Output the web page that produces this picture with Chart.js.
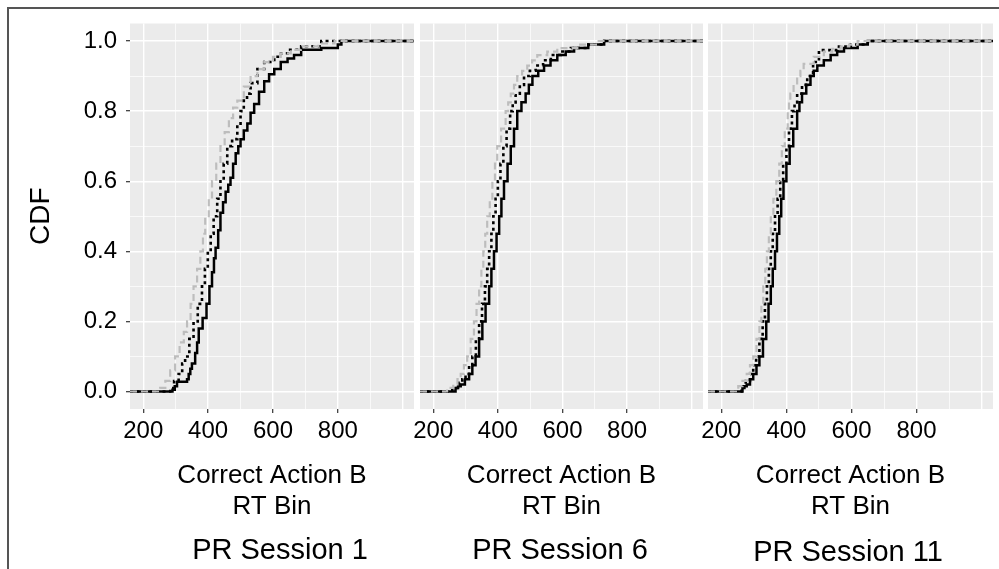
<!DOCTYPE html>
<html>
<head>
<meta charset="utf-8">
<script src="https://cdn.jsdelivr.net/npm/chart.js@4.4.1/dist/chart.umd.min.js"></script>
<style>
  body { margin: 0; background: #fff; width: 999px; height: 569px; overflow: hidden; position: relative;
         font-family: "Liberation Sans", Arial, sans-serif; }
  #frame { position: absolute; left: 7px; top: 7px; width: 1100px; height: 700px; border: 2px solid #555; box-sizing: border-box; }
  canvas { position: absolute; left: 0; top: 0; }
  .session { position: absolute; top: 535px; font-size: 29px; line-height: 1; transform: translateX(-50%); white-space: nowrap; color: #000; }
</style>
</head>
<body>
<div id="frame"></div>
<canvas id="panel1" width="999" height="569"></canvas>
<canvas id="panel2" width="999" height="569"></canvas>
<canvas id="panel3" width="999" height="569"></canvas>
<div class="session" style="left:280px">PR Session 1</div>
<div class="session" style="left:560px">PR Session 6</div>
<div class="session" style="left:848px;top:537px">PR Session 11</div>

<script>
// Axis settings
const X_MIN = 159;
const X_MAX = 1035;
const xGridValues = [200, 300, 400, 500, 600, 700, 800, 900, 1000];
const xTickLabels = [200, 400, 600, 800];
const yGridValues = [0, 0.1, 0.2, 0.3, 0.4, 0.5, 0.6, 0.7, 0.8, 0.9, 1.0];
const xTitle = ['Correct Action B', 'RT Bin'];

// PR Session 1
const p1GrayX = [159, 252, 268, 283, 298, 312, 325, 335, 346, 355, 366, 376, 384, 391, 402, 412, 425, 438, 451, 464, 477, 490, 510, 531, 552, 573, 600, 624, 655, 686, 740, 790, 1035];
const p1GrayY = [0, 0.01, 0.03, 0.06, 0.10, 0.14, 0.17, 0.20, 0.25, 0.30, 0.35, 0.40, 0.45, 0.50, 0.55, 0.60, 0.65, 0.70, 0.74, 0.78, 0.81, 0.83, 0.87, 0.90, 0.92, 0.94, 0.955, 0.965, 0.975, 0.985, 0.993, 1.0, 1.0];
const p1DotX = [159, 283, 295, 309, 320, 329, 342, 355, 368, 381, 390, 399, 408, 417, 428, 438, 448, 459, 474, 490, 500, 510, 520, 531, 552, 573, 604, 625, 645, 687, 749, 1035];
const p1DotY = [0, 0.01, 0.03, 0.05, 0.08, 0.10, 0.15, 0.20, 0.25, 0.30, 0.35, 0.40, 0.45, 0.50, 0.55, 0.60, 0.65, 0.70, 0.72, 0.76, 0.80, 0.83, 0.85, 0.88, 0.92, 0.94, 0.955, 0.965, 0.975, 0.985, 1.0, 1.0];
const p1SolidX = [159, 290, 297, 304, 335, 340, 345, 350, 360, 366, 371, 383, 395, 404, 412, 418, 423, 431, 438, 446, 454, 462, 469, 477, 485, 493, 500, 510, 521, 531, 542, 557, 573, 588, 604, 624, 645, 665, 687, 749, 800, 811, 1035];
const p1SolidY = [0, 0.005, 0.015, 0.028, 0.035, 0.05, 0.065, 0.08, 0.11, 0.14, 0.18, 0.21, 0.25, 0.30, 0.34, 0.38, 0.41, 0.46, 0.51, 0.54, 0.57, 0.59, 0.61, 0.65, 0.68, 0.70, 0.72, 0.745, 0.765, 0.795, 0.82, 0.855, 0.885, 0.905, 0.92, 0.94, 0.95, 0.96, 0.975, 0.98, 0.99, 1.0, 1.0];

// PR Session 6
const p2GrayX = [159, 243, 262, 275, 285, 295, 305, 316, 326, 334, 342, 349, 355, 361, 367, 375, 383, 391, 398, 410, 424, 432, 440, 450, 460, 475, 491, 506, 522, 553, 584, 646, 708, 1035];
const p2GrayY = [0, 0.01, 0.02, 0.035, 0.05, 0.075, 0.10, 0.15, 0.20, 0.25, 0.30, 0.35, 0.40, 0.45, 0.50, 0.55, 0.60, 0.65, 0.70, 0.75, 0.80, 0.825, 0.85, 0.875, 0.90, 0.915, 0.93, 0.945, 0.96, 0.97, 0.98, 0.99, 1.0, 1.0];
const p2DotX = [159, 259, 280, 290, 300, 311, 321, 332, 342, 351, 360, 367, 373, 380, 386, 393, 400, 408, 417, 427, 438, 446, 455, 468, 481, 499, 517, 540, 564, 595, 626, 680, 729, 1035];
const p2DotY = [0, 0.01, 0.025, 0.035, 0.05, 0.075, 0.10, 0.15, 0.20, 0.25, 0.30, 0.35, 0.40, 0.45, 0.50, 0.55, 0.60, 0.65, 0.70, 0.75, 0.80, 0.825, 0.85, 0.875, 0.90, 0.915, 0.93, 0.945, 0.96, 0.97, 0.98, 0.99, 1.0, 1.0];
const p2SolidX = [159, 269, 277, 285, 298, 311, 321, 331, 342, 352, 362, 373, 380, 388, 396, 404, 411, 419, 430, 440, 450, 460, 473, 486, 496, 507, 525, 543, 563, 584, 610, 636, 680, 729, 1035];
const p2SolidY = [0, 0.01, 0.015, 0.02, 0.035, 0.05, 0.075, 0.10, 0.15, 0.20, 0.25, 0.30, 0.35, 0.40, 0.45, 0.50, 0.55, 0.60, 0.65, 0.70, 0.75, 0.80, 0.825, 0.85, 0.875, 0.90, 0.915, 0.93, 0.945, 0.96, 0.97, 0.98, 0.99, 1.0, 1.0];

// PR Session 11
const p3GrayX = [159, 252, 265, 278, 288, 298, 308, 317, 323, 329, 335, 340, 346, 352, 360, 369, 378, 386, 395, 404, 408, 412, 422, 433, 443, 453, 484, 515, 541, 567, 593, 619, 1035];
const p3GrayY = [0, 0.015, 0.03, 0.05, 0.075, 0.10, 0.15, 0.20, 0.25, 0.30, 0.35, 0.40, 0.45, 0.50, 0.55, 0.60, 0.65, 0.70, 0.75, 0.80, 0.825, 0.85, 0.875, 0.90, 0.915, 0.935, 0.955, 0.97, 0.978, 0.985, 0.99, 1.0, 1.0];
const p3DotX = [159, 262, 275, 288, 298, 307, 317, 327, 334, 340, 346, 352, 358, 365, 373, 381, 390, 400, 408, 417, 425, 433, 448, 464, 482, 500, 557, 598, 650, 1035];
const p3DotY = [0, 0.015, 0.03, 0.05, 0.075, 0.10, 0.15, 0.20, 0.25, 0.30, 0.35, 0.40, 0.45, 0.50, 0.55, 0.60, 0.65, 0.70, 0.75, 0.80, 0.825, 0.85, 0.875, 0.90, 0.94, 0.974, 0.984, 0.99, 1.0, 1.0];
const p3SolidX = [159, 265, 271, 278, 288, 298, 308, 317, 328, 338, 345, 352, 358, 365, 371, 378, 384, 391, 400, 410, 421, 433, 440, 448, 461, 474, 484, 495, 515, 536, 556, 577, 619, 650, 1035];
const p3SolidY = [0, 0.01, 0.015, 0.02, 0.035, 0.05, 0.075, 0.10, 0.15, 0.20, 0.25, 0.30, 0.35, 0.40, 0.45, 0.50, 0.55, 0.60, 0.65, 0.70, 0.75, 0.80, 0.825, 0.85, 0.875, 0.90, 0.915, 0.93, 0.945, 0.96, 0.97, 0.98, 0.99, 1.0, 1.0];

Chart.defaults.font.family = '"Liberation Sans", Arial, sans-serif';
Chart.defaults.color = '#000';

// Gray panel background
const panelBackground = {
   id: 'panelBackground',
   beforeDraw(chart) {
       const { ctx, chartArea } = chart;
       ctx.save();
       ctx.fillStyle = '#ebebeb';
       ctx.fillRect(chartArea.left, chartArea.top, chartArea.right - chartArea.left, chartArea.bottom - chartArea.top);
       ctx.restore();
   }
};

function toPoints(xs, ys) {
   return xs.map((x, i) => ({ x: x, y: ys[i] }));
}

const isMajorX = v => v % 200 === 0;
const isMajorY = v => Math.round(v * 10) % 2 === 0;

function makePanel(canvasId, left, right, showY, gray, dot, solid) {
   new Chart(document.getElementById(canvasId), {
       type: 'line',
       data: {
           datasets: [
               { data: gray, borderColor: '#bdbdbd', borderWidth: 2.2, borderDash: [7, 4] },
               { data: dot, borderColor: '#000', borderWidth: 2.6, borderDash: [3, 3.5] },
               { data: solid, borderColor: '#000', borderWidth: 2.5 }
           ]
       },
       options: {
           responsive: false,
           animation: false,
           layout: { padding: { left: showY ? 0 : left, right: 999 - right, top: 23.5, bottom: 0 } },
           elements: {
               point: { radius: 0 },
               line: { stepped: true, tension: 0, borderCapStyle: 'butt' }
           },
           plugins: { legend: { display: false }, tooltip: { enabled: false } },
           scales: {
               x: {
                   type: 'linear',
                   min: X_MIN,
                   max: X_MAX,
                   afterBuildTicks: s => { s.ticks = xGridValues.map(v => ({ value: v })); },
                   afterFit: s => { s.height = 160; },
                   border: { display: false },
                   grid: {
                       color: '#fff',
                       lineWidth: c => isMajorX(c.tick.value) ? 1.4 : 0.7,
                       tickColor: c => xTickLabels.includes(c.tick.value) ? '#333' : 'rgba(0,0,0,0)',
                       tickLength: 4,
                       tickWidth: 1.2
                   },
                   ticks: {
                       autoSkip: false,
                       maxRotation: 0,
                       padding: 4,
                       font: { size: 24 },
                       callback: v => xTickLabels.includes(v) ? String(v) : ''
                   },
                   title: {
                       display: true,
                       text: xTitle,
                       font: { size: 26, lineHeight: 31 / 26 },
                       padding: { top: 0, bottom: 46.5 }
                   }
               },
               y: {
                   min: -0.05,
                   max: 1.05,
                   afterBuildTicks: s => { s.ticks = yGridValues.map(v => ({ value: v })); },
                   afterFit: s => { s.width = showY ? 130 : 0; },
                   border: { display: false },
                   grid: {
                       color: '#fff',
                       lineWidth: c => isMajorY(c.tick.value) ? 1.4 : 0.7,
                       drawTicks: showY,
                       tickColor: c => isMajorY(c.tick.value) ? '#333' : 'rgba(0,0,0,0)',
                       tickLength: 4,
                       tickWidth: 1.2
                   },
                   ticks: {
                       display: showY,
                       autoSkip: false,
                       padding: 9,
                       font: { size: 24 },
                       callback: v => isMajorY(v) ? v.toFixed(1) : ''
                   },
                   title: {
                       display: showY,
                       text: 'CDF',
                       font: { size: 28 },
                       padding: { top: 24, bottom: 0 }
                   }
               }
           }
       },
       plugins: [panelBackground]
   });
}

makePanel('panel1', 130, 414, true,
   toPoints(p1GrayX, p1GrayY), toPoints(p1DotX, p1DotY), toPoints(p1SolidX, p1SolidY));
makePanel('panel2', 420, 703, false,
   toPoints(p2GrayX, p2GrayY), toPoints(p2DotX, p2DotY), toPoints(p2SolidX, p2SolidY));
makePanel('panel3', 708, 993, false,
   toPoints(p3GrayX, p3GrayY), toPoints(p3DotX, p3DotY), toPoints(p3SolidX, p3SolidY));
</script>
</body>
</html>
